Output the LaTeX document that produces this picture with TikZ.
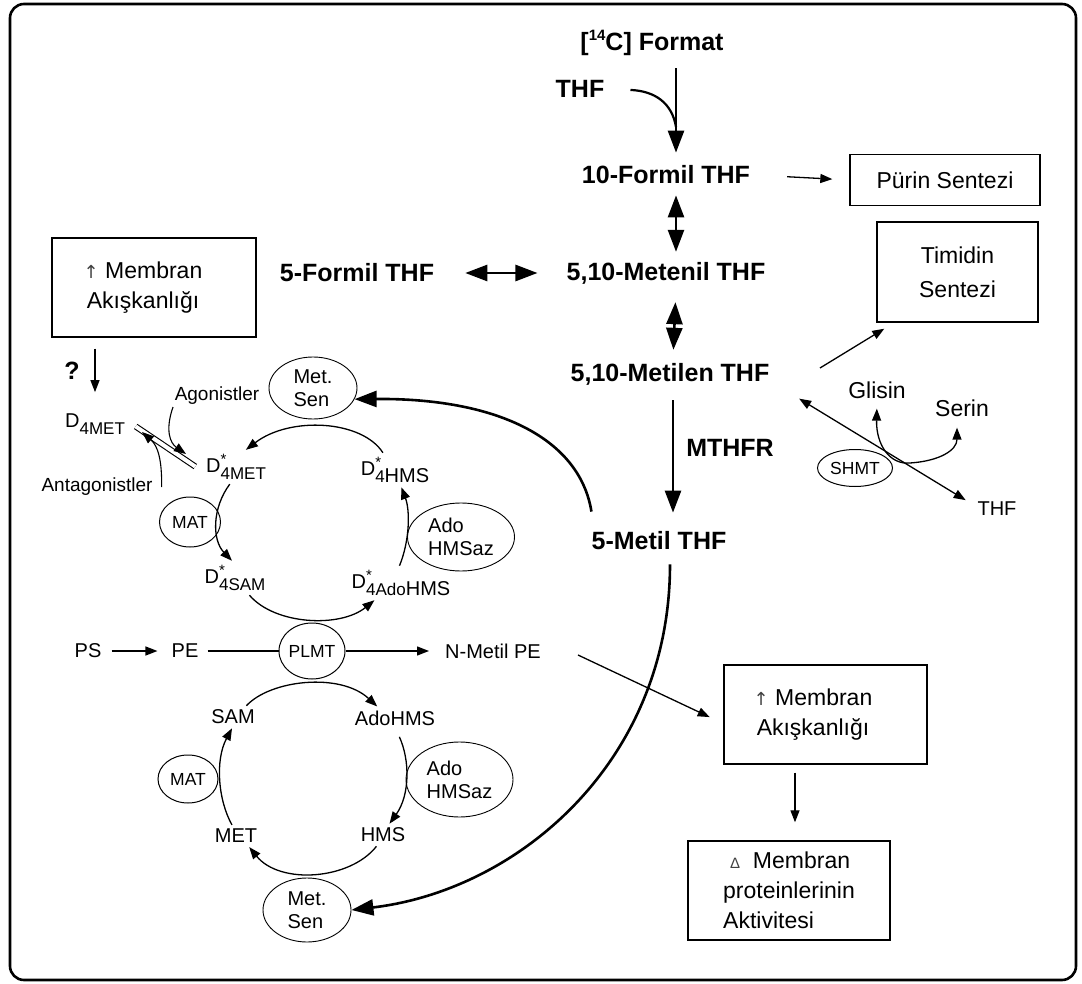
\documentclass[tikz,border=0pt]{standalone}
\usepackage{fontspec}
\setmainfont{Liberation Sans}
\newfontfamily\djv{DejaVu Sans}
\usetikzlibrary{arrows.meta,shapes.geometric}
\newcommand{\Dsym}[2]{D\makebox[0pt][l]{\raisebox{0.4em}{\fontsize{15}{15}\selectfont #1}}\raisebox{-0.38em}{\fontsize{17}{17}\selectfont #2}}
\newcommand{\upar}{{\djv\fontsize{18}{18}\selectfont\textcolor{darkgray}{↑}}}
\begin{document}
\begin{tikzpicture}[x=1pt,y=-1pt,
 big/.style={font=\fontsize{25}{28}\selectfont\bfseries, inner sep=4pt},
 reg/.style={font=\fontsize{23}{27}\selectfont, inner sep=4pt},
 lab/.style={font=\fontsize{20}{22}\selectfont, inner sep=4pt},
 sml/.style={font=\fontsize{19}{21}\selectfont, inner sep=2pt},
 enz/.style={draw, ellipse, line width=1pt, inner sep=0pt, font=\fontsize{17.5}{19}\selectfont},
 enzb/.style={draw, ellipse, line width=0.9pt, inner sep=0pt, align=left, font=\fontsize{20}{23}\selectfont},
 box/.style={draw, line width=1.4pt, inner sep=0pt, align=center, font=\fontsize{23}{30}\selectfont},
 bigarr/.style={line width=2.6pt, -{Triangle[length=22pt,width=16pt]}},
 bigdbl/.style={line width=2.6pt, {Triangle[length=22pt,width=16pt]}-{Triangle[length=22pt,width=16pt]}},
 thinarr/.style={line width=1.3pt, -{Triangle[length=12pt,width=9pt]}},
 thindbl/.style={line width=1.3pt, {Triangle[length=12pt,width=9pt]}-{Triangle[length=12pt,width=9pt]}},
 cyc/.style={line width=1.3pt, -{Triangle[length=12pt,width=9pt]}},
]
\useasboundingbox (0,0) rectangle (1082,984);
\draw[line width=2.6pt, rounded corners=14pt] (10,4) rectangle (1076,980);

% ---- folate column
\node[big] (fmt) at (652,43) {[\raisebox{0.42em}{\fontsize{15}{15}\selectfont 14}C] Format};
\node[big] (thf1) at (580,89) {THF};
\node[big] (ten) at (666,175) {10-Formil THF};
\node[box, minimum width=190pt, minimum height=51pt] (pur) at (945,180) {Pürin Sentezi};
\node[big] (form5) at (357,273) {5-Formil THF};
\node[big] (metenil) at (666,273) {5,10-Metenil THF};
\node[big] (metilen) at (670,374) {5,10-Metilen THF};
\node[big] (mthfr) at (730,448) {MTHFR};
\node[big] (metil) at (659,541) {5-Metil THF};
\node[box, minimum width=161pt, minimum height=100pt, font=\fontsize{23}{34}\selectfont] (tim) at (957.5,272) {Timidin\\Sentezi};
\node[reg] (gli) at (877,390) {Glisin};
\node[reg] (ser) at (962,408) {Serin};
\node[enz, minimum width=75pt, minimum height=37pt] (shmt) at (855,468) {SHMT};
\node[lab] (thf2) at (997,509) {THF};

% ---- left upper
\node[box, minimum width=204pt, minimum height=99pt] (mem1) at (154,287.5) {\upar\ Membran\hspace*{22pt}\\Akışkanlığı\hspace*{22pt}};
\node[big] (q) at (72,371) {?};
\node[lab] (d4met) at (95,424) {\Dsym{}{4MET}};
\node[sml] (agon) at (217,396) {Agonistler};
\node[sml] (antag) at (97,487) {Antagonistler};
\node[lab] (d4mets) at (236,467) {\Dsym{*}{4MET}};
\node[lab] (d4hms) at (395,470) {\Dsym{*}{4}\raisebox{-0.38em}{HMS}};
\node[lab] (d4sam) at (235,578) {\Dsym{*}{4SAM}};
\node[lab] (d4ado) at (401,583) {\Dsym{*}{4Ado}\raisebox{-0.38em}{HMS}};
\node[enz, minimum width=61pt, minimum height=50pt] (mat1) at (190,522) {MAT};
\node[enzb, minimum width=88pt, minimum height=62pt] (ms1) at (313,388) {Met.\\Sen};
\node[enzb, minimum width=107pt, minimum height=68pt] (ah1) at (461,537) {Ado\\HMSaz};

% ---- PE line and lower cycle
\node[lab] (ps) at (88,651) {PS};
\node[lab] (pe) at (185,651) {PE};
\node[enz, minimum width=62pt, minimum height=56pt] (plmt) at (312,651) {PLMT};
\node[lab] (nmpe) at (493,651) {N-Metil PE};
\node[lab] (sam) at (233,717) {SAM};
\node[lab] (adohms) at (395,718) {AdoHMS};
\node[enz, minimum width=60pt, minimum height=48pt] (mat2) at (188,779) {MAT};
\node[enzb, minimum width=107pt, minimum height=75pt] (ah2) at (459.5,779.5) {Ado\\HMSaz};
\node[lab] (met) at (236,836) {MET};
\node[lab] (hms) at (383,835) {HMS};
\node[enzb, minimum width=88pt, minimum height=64pt] (ms2) at (307,910) {Met.\\Sen};

% ---- right lower boxes
\node[box, minimum width=203pt, minimum height=99pt] (mem2) at (825.5,714.5) {\upar\ Membran\hspace*{25pt}\\Akışkanlığı\hspace*{25pt}};
\node[box, minimum width=202pt, minimum height=99pt, align=left] (act) at (789,890.5) {\hspace*{7pt}{\fontsize{15}{15}\selectfont\textcolor{darkgray}{Δ}}\ \ Membran\\proteinlerinin\hspace*{22pt}\\Aktivitesi};

% ---- free ends
\coordinate (join) at (676,127);
\coordinate (timA) at (820,368);
\coordinate (agtip) at (186,454);
\coordinate (antip) at (142,432);

% ---- folate connectors
\draw[bigarr, shorten <=8pt, shorten >=9pt] ([xshift=24pt]fmt.south) -- ([xshift=10pt]ten.north);
\draw[line width=2.2pt, shorten <=22pt] (thf1.east) .. controls (655,91) and (672,103) .. (join);
\draw[thinarr, shorten <=33pt, shorten >=17pt] (ten.east) -- (pur.west);
\draw[bigdbl, shorten <=7pt, shorten >=6pt] ([xshift=10pt]ten.south) -- ([xshift=10pt]metenil.north);
\draw[bigdbl, shorten <=14pt, shorten >=9pt] ([xshift=10pt]metenil.south) -- ([xshift=3pt]metilen.north);
\draw[bigdbl, shorten <=27pt, shorten >=25pt] (form5.east) -- (metenil.west);
\draw[bigarr, shorten <=11pt, shorten >=15pt] ([xshift=3pt]metilen.south) -- ([xshift=14pt]metil.north);
\draw[thinarr] (timA) -- ([xshift=8pt,yshift=-6pt]tim.south west);
\draw[thindbl, shorten <=30pt, shorten >=9pt] (metilen.-5) -- (thf2.170);
\draw[thindbl, shorten <=6pt, shorten >=7pt] (gli.south) .. controls (876,445) and (890,465) .. (910,463) .. controls (940,461) and (957,450) .. ([xshift=-5pt]ser.south);

% ---- big curves from 5-Metil THF
\draw[bigarr, shorten <=10pt] ([xshift=11pt]metil.south) .. controls (670,760) and (520,890) .. (ms2.east);
\draw[bigarr] ([xshift=4pt,yshift=16pt]metil.north west) .. controls (580,440) and (500,398) .. (ms1.-15);

% ---- left upper connectors
\draw[thinarr, shorten <=11pt, shorten >=17pt] (mem1.south -| d4met) -- (d4met);
\draw[line width=1.1pt, double distance=4pt, shorten <=8pt, shorten >=8pt] ([yshift=2pt]d4met.east) -- ([yshift=-4pt]d4mets.west);
\draw[cyc, line width=1.1pt] ([xshift=-44pt]agon.south) .. controls (165,430) and (170,443) .. (agtip);
\draw[cyc, line width=1.1pt] ([xshift=7pt]antag.east) .. controls (162,460) and (158,446) .. (antip);

% ---- upper cycle
\draw[cyc] (d4hms.125) .. controls (362,420) and (290,416) .. (d4mets.60);
\draw[cyc] (d4mets.250) .. controls (212,508) and (212,540) .. (d4sam.100);
\draw[cyc] (d4sam.-50) .. controls (275,625) and (340,628) .. (d4ado.-147);
\draw[cyc] (d4ado.95) .. controls (410,540) and (410,510) .. (d4hms.-70);

% ---- PE line
\draw[thinarr, shorten <=6pt, shorten >=10pt] (ps) -- (pe);
\draw[line width=1.2pt, shorten <=5pt] (pe) -- (plmt);
\draw[thinarr, shorten >=12pt] (plmt) -- (nmpe);

% ---- lower cycle
\draw[cyc] (sam.40) .. controls (270,680) and (340,672) .. (adohms.147);
\draw[cyc, shorten <=8pt] (adohms.-85) .. controls (410,760) and (410,795) .. (hms.60);
\draw[cyc] (hms.-120) .. controls (350,880) and (280,885) .. (met.-40);
\draw[cyc] (met.110) .. controls (218,800) and (215,760) .. (sam.-95);

% ---- membrane connectors
\draw[thinarr, shorten >=15pt] ([xshift=33pt,yshift=-4pt]nmpe.east) -- ([yshift=-9pt]mem2.west);
\draw[thinarr, shorten <=8pt, shorten >=18pt] ([xshift=-30.5pt]mem2.south) -- ([xshift=6pt]act.north);
\end{tikzpicture}
\end{document}
